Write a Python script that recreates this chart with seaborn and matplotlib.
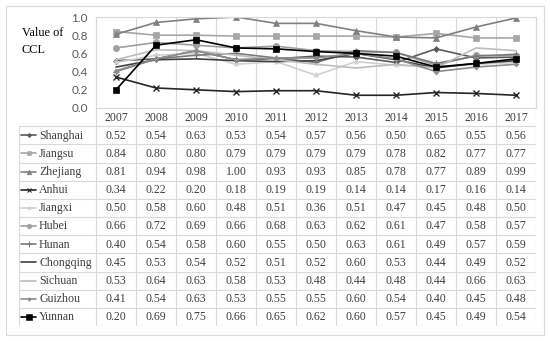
import pandas as pd
import seaborn as sns
import matplotlib.pyplot as plt
from matplotlib.patches import Rectangle

years = [2007, 2008, 2009, 2010, 2011, 2012, 2013, 2014, 2015, 2016, 2017]
provinces = ["Shanghai", "Jiangsu", "Zhejiang", "Anhui", "Jiangxi", "Hubei",
             "Hunan", "Chongqing", "Sichuan", "Guizhou", "Yunnan"]

shanghai = [0.52, 0.54, 0.63, 0.53, 0.54, 0.57, 0.56, 0.50, 0.65, 0.55, 0.56]
jiangsu = [0.84, 0.80, 0.80, 0.79, 0.79, 0.79, 0.79, 0.78, 0.82, 0.77, 0.77]
zhejiang = [0.81, 0.94, 0.98, 1.00, 0.93, 0.93, 0.85, 0.78, 0.77, 0.89, 0.99]
anhui = [0.34, 0.22, 0.20, 0.18, 0.19, 0.19, 0.14, 0.14, 0.17, 0.16, 0.14]
jiangxi = [0.50, 0.58, 0.60, 0.48, 0.51, 0.36, 0.51, 0.47, 0.45, 0.48, 0.50]
hubei = [0.66, 0.72, 0.69, 0.66, 0.68, 0.63, 0.62, 0.61, 0.47, 0.58, 0.57]
hunan = [0.40, 0.54, 0.58, 0.60, 0.55, 0.50, 0.63, 0.61, 0.49, 0.57, 0.59]
chongqing = [0.45, 0.53, 0.54, 0.52, 0.51, 0.52, 0.60, 0.53, 0.44, 0.49, 0.52]
sichuan = [0.53, 0.64, 0.63, 0.58, 0.53, 0.48, 0.44, 0.48, 0.44, 0.66, 0.63]
guizhou = [0.41, 0.54, 0.63, 0.53, 0.55, 0.55, 0.60, 0.54, 0.40, 0.45, 0.48]
yunnan = [0.20, 0.69, 0.75, 0.66, 0.65, 0.62, 0.60, 0.57, 0.45, 0.49, 0.54]

values = [shanghai, jiangsu, zhejiang, anhui, jiangxi, hubei,
          hunan, chongqing, sichuan, guizhou, yunnan]

# line styles per province (colour, marker, marker size)
styles = {
    "Shanghai": ("#595959", "D", 3),
    "Jiangsu": ("#a6a6a6", "s", 4.5),
    "Zhejiang": ("#808080", "^", 4.5),
    "Anhui": ("#262626", "x", 4),
    "Jiangxi": ("#d0d0d0", "*", 4),
    "Hubei": ("#a0a0a0", "o", 4.5),
    "Hunan": ("#7a7a7a", "+", 5),
    "Chongqing": ("#404040", "", 0),
    "Sichuan": ("#bdbdbd", "", 0),
    "Guizhou": ("#8c8c8c", "D", 2.5),
    "Yunnan": ("#000000", "s", 5),
}

df = pd.DataFrame({
    "province": [p for p in provinces for _ in years],
    "pos": list(range(len(years))) * len(provinces),
    "value": [v for vals in values for v in vals],
})

sns.set_style("white")
plt.rcParams["font.family"] = ["Liberation Serif", "DejaVu Sans"]

W, H = 550, 341
fig = plt.figure(figsize=(W / 100, H / 100), dpi=100)
fig.patch.set_facecolor("white")
fig.patches.append(Rectangle((6 / W, 1 - 335 / H), 538 / W, 329 / H,
                             transform=fig.transFigure, fill=False,
                             edgecolor="#d9d9d9", linewidth=0.8))

grid_c = "#d9d9d9"
text_c = "#404040"
fs = 8.6

# chart area
ax = fig.add_axes([96 / W, 1 - 108 / H, 440 / W, 91 / H])
for p in provinces:
    c, m, ms = styles[p]
    sub = df[df["province"] == p]
    sns.lineplot(data=sub, x="pos", y="value", color=c, marker=m if m else None,
                 markersize=ms, markeredgecolor=c, markeredgewidth=1 if m in "x+" else 0.5,
                 linewidth=1.2, ax=ax, legend=False)
ax.set_xlim(-0.5, len(years) - 0.5)
ax.set_ylim(0, 1.0)
ax.set_yticks([0, 0.2, 0.4, 0.6, 0.8, 1.0])
ax.set_yticklabels(["0.0", "0.2", "0.4", "0.6", "0.8", "1.0"],
                   fontfamily="Lato", fontsize=8.5, color="#595959")
ax.set_xticks([])
ax.set_xlabel("")
ax.set_ylabel("")
ax.tick_params(axis="y", length=0, pad=6)
for i in range(len(years) + 1):
    ax.axvline(i - 0.5, color=grid_c, linewidth=0.8, zorder=0)
for s in ax.spines.values():
    s.set_color(grid_c)
    s.set_linewidth(0.8)

fig.text(22 / W, 1 - 33 / H, "Value of", fontsize=8.8, color="black", va="center")
fig.text(22 / W, 1 - 50 / H, "CCL", fontsize=8.8, color="black", va="center")

# data table below the chart
lab_w = 77 / 40
tax = fig.add_axes([19 / W, 1 - 326 / H, 517 / W, 218 / H])
tax.set_xlim(-0.5 - lab_w, len(years) - 0.5)
tax.set_ylim(len(provinces) + 1, 0)
tax.axis("off")
x0 = -0.5 - lab_w
x1 = len(years) - 0.5
nrow = len(provinces) + 1
for r in range(1, nrow + 1):
    tax.plot([x0, x1], [r, r], color=grid_c, linewidth=0.8)
tax.plot([x0, x0], [1, nrow], color=grid_c, linewidth=0.8)
for i in range(len(years) + 1):
    tax.plot([i - 0.5, i - 0.5], [0, nrow], color=grid_c, linewidth=0.8)

for i, y in enumerate(years):
    tax.text(i, 0.55, str(y), ha="center", va="center", fontsize=fs, color=text_c)

for r, (p, vals) in enumerate(zip(provinces, values), start=1):
    c, m, ms = styles[p]
    tax.plot([x0 + 2 / 40, x0 + 17 / 40], [r + 0.5, r + 0.5], color=c, linewidth=1.2)
    if m:
        tax.plot([x0 + 9.5 / 40], [r + 0.5], marker=m, color=c, markersize=ms * 0.75,
                 markeredgecolor=c, markeredgewidth=0.8 if m in "x+" else 0.4)
    tax.text(x0 + 20 / 40, r + 0.52, p, ha="left", va="center", fontsize=fs, color=text_c)
    for i, v in enumerate(vals):
        tax.text(i, r + 0.52, f"{v:.2f}", ha="center", va="center", fontsize=fs, color=text_c)

fig.savefig("out.png", dpi=100)
plt.close(fig)
